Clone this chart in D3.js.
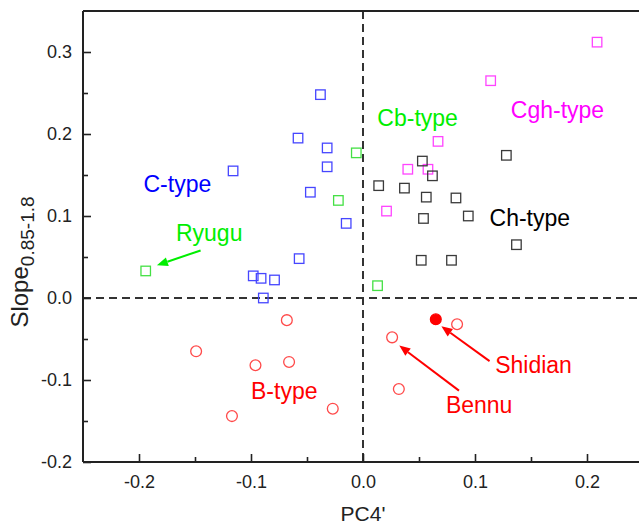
<!DOCTYPE html>
<html><head><meta charset="utf-8">
<script src="https://cdn.jsdelivr.net/npm/d3@7"></script>
<style>body{margin:0;background:#fff}svg{display:block}text{font-family:"Liberation Sans",Arial,sans-serif}</style>
</head><body><div id="chart"></div>
<script>
// ---- data (PC4', Slope 0.85-1.8) ----
const cType = [[-0.038,0.248],[-0.058,0.195],[-0.032,0.183],[-0.032,0.160],[-0.116,0.155],[-0.047,0.129],[-0.015,0.091],[-0.057,0.048],[-0.098,0.027],[-0.091,0.024],[-0.079,0.022],[-0.089,0.000]];
const cbType = [[-0.006,0.177],[-0.022,0.119],[0.013,0.015]];
const ryugu = [[-0.194,0.033]];
const cghType = [[0.209,0.312],[0.114,0.265],[0.067,0.191],[0.040,0.157],[0.058,0.157],[0.021,0.106]];
const chType = [[0.014,0.137],[0.037,0.134],[0.053,0.167],[0.062,0.149],[0.0565,0.123],[0.083,0.122],[0.054,0.097],[0.094,0.100],[0.128,0.174],[0.137,0.065],[0.052,0.046],[0.079,0.046]];
const bType = [[-0.068,-0.027],[-0.149,-0.065],[-0.096,-0.082],[-0.066,-0.078],[-0.117,-0.144],[-0.027,-0.135],[0.084,-0.032],[0.032,-0.111]];
const bennu = [[0.026,-0.048]];
const shidian = [[0.065,-0.026]];
const xTicks = [-0.2,-0.1,0.0,0.1,0.2];
const yTicks = [-0.2,-0.1,0.0,0.1,0.2,0.3];
const xMinor = [-0.15,-0.05,0.05,0.15];
const yMinor = [-0.15,-0.05,0.05,0.15,0.25];
const labels = [
  {t:"C-type", x:-0.196, y:0.129, c:"#0000ff"},
  {t:"Ryugu", x:-0.167, y:0.069, c:"#00ee00"},
  {t:"Cb-type", x:0.0128, y:0.210, c:"#00ee00"},
  {t:"Cgh-type", x:0.132, y:0.220, c:"#ff00ff"},
  {t:"Ch-type", x:0.113, y:0.088, c:"#000000"},
  {t:"B-type", x:-0.100, y:-0.123, c:"#ff0000"},
  {t:"Shidian", x:0.118, y:-0.091, c:"#ff0000"},
  {t:"Bennu", x:0.074, y:-0.140, c:"#ff0000"}
];
const arrows = [
  {x1:-0.145,y1:0.058,x2:-0.184,y2:0.040,c:"#00ee00"},
  {x1:0.113,y1:-0.077,x2:0.070,y2:-0.0345,c:"#ff0000"},
  {x1:0.0857,y1:-0.113,x2:0.0324,y2:-0.058,c:"#ff0000"}
];

const W=639,H=526;
const L=83,R=643,T=11,B=462;
const x=d3.scaleLinear().domain([-0.25,0.25]).range([L,R]);
const y=d3.scaleLinear().domain([-0.2,0.35]).range([B,T]);
const svg=d3.select("#chart").append("svg").attr("width",W).attr("height",H);

const fmt=d3.format(".1f");
const fmtT=v=>fmt(v).replace("−","-");

// dashed zero lines
svg.append("line").attr("x1",x(0)).attr("x2",x(0)).attr("y1",T).attr("y2",B)
  .attr("stroke","#333").attr("stroke-width",2).attr("stroke-dasharray","8,5");
svg.append("line").attr("x1",L).attr("x2",R).attr("y1",y(0)).attr("y2",y(0))
  .attr("stroke","#333").attr("stroke-width",2).attr("stroke-dasharray","8,5");

// axes
const xAxis=d3.axisBottom(x).tickValues(xTicks).tickSize(-8).tickPadding(13).tickFormat(fmtT);
const yAxis=d3.axisLeft(y).tickValues(yTicks).tickSize(-8).tickPadding(11).tickFormat(fmtT);
const gx=svg.append("g").attr("transform",`translate(0,${B})`).call(xAxis);
const gy=svg.append("g").attr("transform",`translate(${L},0)`).call(yAxis);
[gx,gy].forEach(g=>{
  g.select(".domain").attr("stroke","#222").attr("stroke-width",2);
  g.selectAll(".tick line").attr("stroke","#222").attr("stroke-width",1.6);
  g.selectAll(".tick text").attr("fill","#222").style("font-size","18px").style("font-family","'Liberation Sans',Arial,sans-serif");
});
gx.call(g=>g.select(".domain").attr("d",`M${L},0H${R}`));
gy.call(g=>g.select(".domain").attr("d",`M0,${B}V${T}`));
svg.append("g").attr("transform",`translate(0,${B})`).call(d3.axisBottom(x).tickValues(xMinor).tickSize(-5).tickFormat(""))
  .call(g=>{g.select(".domain").remove();g.selectAll("line").attr("stroke","#222").attr("stroke-width",1.6);});
svg.append("g").attr("transform",`translate(${L},0)`).call(d3.axisLeft(y).tickValues(yMinor).tickSize(-5).tickFormat(""))
  .call(g=>{g.select(".domain").remove();g.selectAll("line").attr("stroke","#222").attr("stroke-width",1.6);});
// top frame
svg.append("line").attr("x1",L).attr("x2",R).attr("y1",T).attr("y2",T).attr("stroke","#222").attr("stroke-width",2);

// axis titles
svg.append("text").attr("x",x(0)).attr("y",521).attr("text-anchor","middle")
  .style("font-size","21px").attr("fill","#222").text("PC4'");
const yt=svg.append("text").attr("transform",`translate(28,262) rotate(-90)`).attr("text-anchor","middle")
  .style("font-size","24px").attr("fill","#222");
yt.append("tspan").text("Slope");
yt.append("tspan").attr("dy",6).style("font-size","19px").text("0.85-1.8");

// markers
const sq=9.5;
function squares(data,color){
  svg.append("g").selectAll("rect").data(data).join("rect")
    .attr("x",d=>x(d[0])-sq/2).attr("y",d=>y(d[1])-sq/2).attr("width",sq).attr("height",sq)
    .attr("fill","none").attr("stroke",color).attr("stroke-width",1.3);
}
squares(cType,"#4646ff");
squares(cbType,"#44e044");
squares(ryugu,"#44e044");
squares(cghType,"#ff44ff");
squares(chType,"#3a3a3a");
function circles(data,color,filled){
  svg.append("g").selectAll("circle").data(data).join("circle")
    .attr("cx",d=>x(d[0])).attr("cy",d=>y(d[1])).attr("r",5.4)
    .attr("fill",filled?color:"none").attr("stroke",color).attr("stroke-width",1.3);
}
circles(bType,"#ff4a4a",false);
circles(bennu,"#ff4a4a",false);
circles(shidian,"#ff0000",true);

// arrows
arrows.forEach(a=>{
  const x1=x(a.x1),y1=y(a.y1),x2=x(a.x2),y2=y(a.y2);
  const ang=Math.atan2(y2-y1,x2-x1),len=11,hw=4.5;
  const bx=x2-len*Math.cos(ang),by=y2-len*Math.sin(ang);
  svg.append("line").attr("x1",x1).attr("y1",y1).attr("x2",bx).attr("y2",by)
    .attr("stroke",a.c).attr("stroke-width",2);
  const p=[[x2,y2],[bx+hw*Math.sin(ang),by-hw*Math.cos(ang)],[bx-hw*Math.sin(ang),by+hw*Math.cos(ang)]];
  svg.append("path").attr("d","M"+p.map(q=>q.join(",")).join("L")+"Z").attr("fill",a.c);
});

// labels
svg.append("g").selectAll("text").data(labels).join("text")
  .attr("x",d=>x(d.x)).attr("y",d=>y(d.y)).attr("fill",d=>d.c)
  .style("font-size","23px").text(d=>d.t);
</script></body></html>
